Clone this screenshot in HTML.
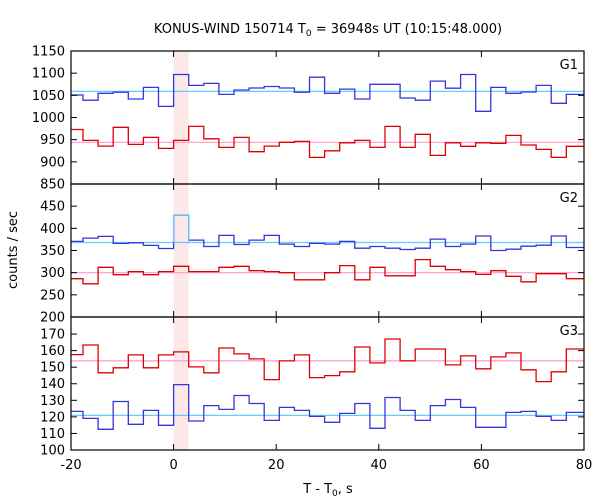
<!DOCTYPE html>
<html><head><meta charset="utf-8"><style>
body{margin:0;background:#fff}
svg{display:block;font-family:"DejaVu Sans","Liberation Sans",sans-serif}
</style></head><body>
<svg id="chart" width="600" height="500" viewBox="0 0 600 500" xmlns="http://www.w3.org/2000/svg">
<text x="328" y="33" font-size="13" text-anchor="middle">KONUS-WIND 150714 T<tspan font-size="9" dy="3">0</tspan><tspan dy="-3"> = 36948s UT (10:15:48.000)</tspan></text>
<text transform="translate(17,250) rotate(-90)" font-size="13" text-anchor="middle">counts / sec</text>
<text x="328" y="493" font-size="13" text-anchor="middle">T - T<tspan font-size="9" dy="3">0</tspan><tspan dy="-3">, s</tspan></text>
<g id="plot"></g>
</svg>
<script>
const binWidth = 2.944;
const firstBin = -7;
const g1Blue = [1050.7,1039,1054.5,1057,1041.7,1068,1025,1097,1072.5,1077,1052,1062,1066.5,1070,1066.5,1057,1091,1054.5,1064,1041.7,1075,1075,1044,1039,1082,1066,1097,1014,1068,1054.5,1057.5,1072.5,1032,1052,1052];
const g1Red = [973,948.4,935.6,977.8,939.4,955,930.4,948.4,980,952,932.6,955,922.9,935.6,944,946,910,925,943,948.4,932.6,980,932.6,962,914.6,943,935,943,941.7,959.7,938,928,910,935,935];
const g1BlueMean = 1059;
const g1RedMean = 944;
const g2Blue = [370.5,378,381.8,366,367.4,361.4,354.5,429.5,373.5,359,384,363.6,373.5,384,364.4,359,366,364.4,370.5,355.3,359,355.3,352.3,355.3,375.8,359,364.4,382.6,350,353,359.8,362,382.6,356.8,356.8];
const g2Red = [286.4,275,312,295.5,302.3,295.5,302.3,314.4,302.3,302.3,312,314.4,304.5,302.3,300,284,284,300,316,284,312,293,293,329.5,314.4,306.8,302.3,296,304.5,291.7,279.5,297.7,297.7,286.4,286.4];
const g2BlueMean = 368;
const g2RedMean = 300;
const g3Red = [157.6,163.4,146.6,149.6,157.4,149.6,157.4,159.2,150.2,146.6,161.6,158,155,142.5,153.8,157.4,143.7,144.9,147.2,162.2,152.6,167,153.8,161,161,151.4,156.8,149,156.2,158.6,148.4,141.3,147.2,161,161];
const g3Blue = [123.3,119.1,112.5,129.3,115.5,123.9,114.9,139.5,117.5,126.8,124.5,132.9,128.1,117.9,125.7,123.9,120.3,116.7,122.1,128.1,113.1,131.7,123.9,117.9,126.8,130.5,125.7,113.7,113.7,122.7,123.3,120.3,117.9,122.7,122.7];
const g3RedMean = 153.8;
const g3BlueMean = 120.9;
const xTicks = [-20,0,20,40,60,80];
const g1Ticks = [850,900,950,1000,1050,1100,1150];
const g2Ticks = [200,250,300,350,400,450];
const g3Ticks = [100,110,120,130,140,150,160,170];

const NS='http://www.w3.org/2000/svg';
const plot=document.getElementById('plot');
const L=71,R=584,T=51,B=450;
const X=v=>L+(v+20)/100*(R-L);
function mk(tag,attrs,parent){const e=document.createElementNS(NS,tag);for(const k in attrs)e.setAttribute(k,attrs[k]);(parent||plot).appendChild(e);return e;}
const panels=[
 {name:'g1',top:51,bot:184,min:850,max:1150,ticks:g1Ticks,series:[[g1Blue,'#3535dd',g1BlueMean,'#66ccff'],[g1Red,'#dd0000',g1RedMean,'#ff99cc']],label:'G1',skipBottom:false},
 {name:'g2',top:184,bot:317,min:200,max:500,ticks:g2Ticks,series:[[g2Blue,'#3535dd',g2BlueMean,'#66ccff'],[g2Red,'#dd0000',g2RedMean,'#ff99cc']],label:'G2'},
 {name:'g3',top:317,bot:450,min:100,max:180.3,ticks:g3Ticks,series:[[g3Red,'#dd0000',g3RedMean,'#ff99cc'],[g3Blue,'#3535dd',g3BlueMean,'#66ccff']],label:'G3'}
];
// shaded trigger band
const band=mk('rect',{x:X(0),y:T,width:X(binWidth)-X(0),height:B-T,fill:'#fde8e8'});


panels.forEach(p=>{
  const Y=v=>p.bot-(v-p.min)/(p.max-p.min)*(p.bot-p.top);
  const g=mk('g',{});
  
  
  p.series.forEach((s,si)=>{
    const [vals,col,mean,mcol]=s;
    const ml=mk('line',{x1:L,x2:R,y1:Y(mean),y2:Y(mean),stroke:mcol,'stroke-width':1.2},g);
    
    
    let d='';
    vals.forEach((v,i)=>{
      const x0=Math.max(L,X((firstBin+i)*binWidth)),x1=Math.min(R,X((firstBin+i+1)*binWidth));
      if(x1<=x0)return;
      d+=(d?'L':'M')+x0.toFixed(1)+','+Y(v).toFixed(1)+'L'+x1.toFixed(1)+','+Y(v).toFixed(1);
    });
    const path=mk('path',{d:d,fill:'none',stroke:col,'stroke-width':1.3},g);
    
    
    if(p.name==='g2'&&si===0){
      const i=-firstBin;const v=vals[i];
      const sp=mk('path',{d:`M${X(0)},${Y(mean)}L${X(0)},${Y(v)}L${X(binWidth)},${Y(v)}L${X(binWidth)},${Y(mean)}`,fill:'none',stroke:mcol,'stroke-width':1.3},g);
      
      
    }
  });
  // y ticks
  p.ticks.forEach(t=>{
    const y=Y(t);
    mk('line',{x1:L,x2:L+6,y1:y,y2:y,stroke:'#000'},g);
    mk('line',{x1:R,x2:R-6,y1:y,y2:y,stroke:'#000'},g);
    const tx=mk('text',{x:L-6,y:y+4.5,'font-size':13,'text-anchor':'end'},g);
    tx.textContent=t;
    
    
  });
  xTicks.forEach(t=>{
    const x=X(t);
    mk('line',{x1:x,x2:x,y1:p.bot,y2:p.bot-6,stroke:'#000'},g);
    mk('line',{x1:x,x2:x,y1:p.top,y2:p.top+6,stroke:'#000'},g);
  });
  mk('rect',{x:L,y:p.top,width:R-L,height:p.bot-p.top,fill:'none',stroke:'#000','stroke-width':1.2},g);
  const lb=mk('text',{x:578,y:p.top+18,'font-size':13,'text-anchor':'end'},g);
  lb.textContent=p.label;
  
  
});
xTicks.forEach(t=>{
  const tx=mk('text',{x:X(t),y:469,'font-size':13,'text-anchor':'middle'});
  tx.textContent=t;
  
  
});
</script>
</body></html>
